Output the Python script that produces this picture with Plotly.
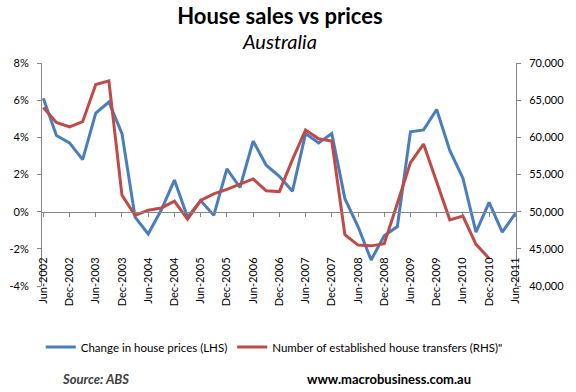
import plotly.graph_objects as go

# ---- data -------------------------------------------------------------
quarters = [
    "Jun-2002", "Sep-2002", "Dec-2002", "Mar-2003", "Jun-2003", "Sep-2003", "Dec-2003",
    "Mar-2004", "Jun-2004", "Sep-2004", "Dec-2004", "Mar-2005", "Jun-2005", "Sep-2005",
    "Dec-2005", "Mar-2006", "Jun-2006", "Sep-2006", "Dec-2006", "Mar-2007", "Jun-2007",
    "Sep-2007", "Dec-2007", "Mar-2008", "Jun-2008", "Sep-2008", "Dec-2008", "Mar-2009",
    "Jun-2009", "Sep-2009", "Dec-2009", "Mar-2010", "Jun-2010", "Sep-2010", "Dec-2010",
    "Mar-2011", "Jun-2011",
]
tick_quarters = quarters[::2]

price_change = [6.1, 4.1, 3.7, 2.8, 5.3, 5.9, 4.2, -0.3, -1.2, 0.1, 1.7, -0.3, 0.6, -0.2,
                2.3, 1.3, 3.8, 2.5, 1.9, 1.1, 4.2, 3.7, 4.2, 0.7, -0.8, -2.6, -1.3, -0.8,
                4.3, 4.4, 5.5, 3.3, 1.8, -1.1, 0.5, -1.1, -0.1]

transfers = [64000, 62000, 61400, 62100, 67100, 67600, 52200, 49500, 50200, 50500, 51400,
             49000, 51500, 52400, 53000, 53700, 54400, 52800, 52700, 57000, 61000, 59800,
             59500, 46900, 45500, 45400, 45700, 51100, 56600, 59100, 53900, 48900, 49400,
             45600, 43700, None, None]

left_ticks = [-4, -2, 0, 2, 4, 6, 8]
left_ticktext = ["-4%", "-2%", "0%", "2%", "4%", "6%", "8%"]
right_ticks = [40000, 45000, 50000, 55000, 60000, 65000, 70000]
right_ticktext = ["40,000", "45,000", "50,000", "55,000", "60,000", "65,000", "70,000"]

# ---- styling ----------------------------------------------------------
FONT = "Lato"
AXIS = "#868686"
BLUE = "#4A7EBB"
RED = "#BE4B48"

fig = go.Figure()
fig.add_trace(go.Scatter(
    x=quarters, y=price_change, name="Change in house prices (LHS)",
    mode="lines", line=dict(color=BLUE, width=3), xaxis="x", yaxis="y"))
fig.add_trace(go.Scatter(
    x=quarters, y=transfers, name="Number of established house transfers (RHS)\"",
    mode="lines", line=dict(color=RED, width=3), xaxis="x2", yaxis="y2"))

xr = [-0.1, 36.05]
fig.update_layout(
    width=576, height=392,
    margin=dict(l=42, r=60, t=63, b=106, autoexpand=False),
    paper_bgcolor="white", plot_bgcolor="white",
    font=dict(family=FONT, size=11, color="black"),
    showlegend=True,
    legend=dict(orientation="h", x=0.49, xanchor="center", y=-0.274, yanchor="middle",
                font=dict(size=11.5), bgcolor="rgba(0,0,0,0)", itemwidth=30),
    title=dict(text="<b>House sales vs prices</b>", x=0.486, xanchor="center",
               y=1 - 16 / 392, yanchor="middle", font=dict(family=FONT, size=22, color="black")),
    # axis line sitting on the 0% level, with tick marks
    xaxis=dict(type="category", range=xr, anchor="free", position=1 / 3, automargin=False,
               showline=True, linecolor=AXIS, linewidth=1,
               tickmode="array", tickvals=tick_quarters, ticks="outside", ticklen=4,
               tickcolor=AXIS, showticklabels=False, showgrid=False, zeroline=False),
    # tick labels (rotated) near the bottom
    xaxis2=dict(type="category", range=xr, overlaying="x", anchor="free", position=0.1425,
                automargin=False, side="bottom", showline=False, ticks="", tickmode="array",
                tickvals=tick_quarters, ticktext=tick_quarters, tickangle=-90,
                tickfont=dict(size=11), showgrid=False, zeroline=False),
    yaxis=dict(range=[-4, 8], tickmode="array", tickvals=left_ticks, ticktext=left_ticktext,
               automargin=False,
               showline=True, linecolor=AXIS, ticks="outside", ticklen=4, tickcolor=AXIS,
               showgrid=False, zeroline=False, ticklabelstandoff=6, tickfont=dict(size=11)),
    yaxis2=dict(range=[40000, 70000], overlaying="y", side="right", anchor="x",
                automargin=False,
                tickmode="array", tickvals=right_ticks, ticktext=right_ticktext,
                showline=True, linecolor=AXIS, ticks="outside", ticklen=4, tickcolor=AXIS,
                showgrid=False, zeroline=False, ticklabelstandoff=6, tickfont=dict(size=11)),
    annotations=[
        dict(text="<i>Australia</i>", xref="paper", yref="paper", x=0.5, y=1.1,
             xanchor="center", yanchor="middle", showarrow=False,
             font=dict(family=FONT, size=20, color="black")),
        dict(text="<b><i>Source: ABS</i></b>", xref="paper", yref="paper", x=0.038, y=-0.415,
             xanchor="left", yanchor="middle", showarrow=False,
             font=dict(family=FONT, size=13, color="#404040")),
        dict(text="<b>www.macrobusiness.com.au</b>", xref="paper", yref="paper", x=0.732,
             y=-0.415, xanchor="center", yanchor="middle", showarrow=False,
             font=dict(family=FONT, size=13, color="black")),
    ],
)

fig.write_html("out.html", config={"displayModeBar": False},
               post_script="document.body.style.margin='0';document.body.style.overflow='hidden';")
